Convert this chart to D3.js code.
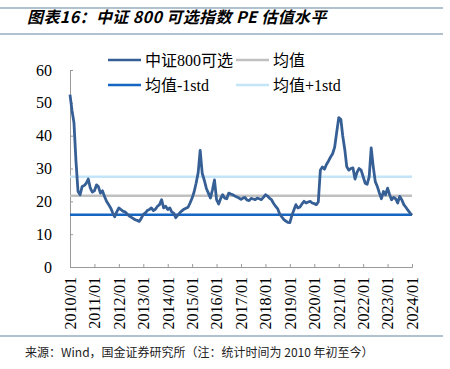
<!DOCTYPE html>
<html>
<head>
<meta charset="utf-8">
<script src="https://cdn.jsdelivr.net/npm/d3@7"></script>
<style>
  body { margin: 0; background: #fff; }
  svg text { font-family: "Liberation Serif", "Noto Sans CJK SC", serif; }
</style>
</head>
<body>
<div id="chart"></div>
<script>
// PE of CSI 800 consumer discretionary, monthly from 2010/01 to 2024/01
var peValues = [
    52.5, 47.5, 44, 32, 23, 22, 24.5, 24.8, 25.5, 26.8, 24, 22.8,          // 2010
    23.2, 25, 24.5, 22.5, 23.2, 21.5, 20, 19, 18, 16.5, 15.3, 16.8,        // 2011
    18, 17.5, 17, 16.8, 16.2, 15.6, 15.2, 14.8, 14.4, 14.2, 13.9, 14.8,    // 2012
    16, 16.5, 17.2, 17.5, 18, 17.2, 17.6, 18.5, 19, 20.5, 18, 18.5,        // 2013
    17.5, 18, 16.8, 16.4, 15, 15.8, 16.5, 17.1, 17.6, 17.9, 18.2, 19.5,    // 2014
    21, 23, 25.5, 28.7, 35.5, 28.5, 26.5, 24, 22.5, 21, 23.5, 26.5,        // 2015
    20.5, 19.2, 20.8, 22, 21, 20.8, 22.5, 22.2, 22, 21.6, 21.3, 21,        // 2016
    20.6, 21, 21.2, 20.4, 20.2, 20.9, 20.7, 20.5, 21, 20.8, 20.5, 21.2,    // 2017
    22, 21.6, 21, 20.5, 19.4, 18.5, 17.8, 16.2, 15.3, 14.5, 14, 13.6,      // 2018
    13.5, 15.8, 17.3, 19, 18, 18.3, 19.2, 20, 19.5, 19.8, 20, 19.5,        // 2019
    19.3, 19, 19.8, 29.5, 30.5, 29.8, 31.2, 32.3, 33.5, 34.5, 36.5, 41,    // 2020
    45.5, 45, 40, 35.8, 30.5, 29.5, 30, 30.2, 26.8, 28.8, 30, 29.5,        // 2021
    27.5, 25.5, 25.2, 27.5, 36.3, 30.5, 26, 24.5, 22.5, 20.8, 23, 22,      // 2022
    24, 22, 20.5, 21.2, 20.8, 19.5, 21.5, 20.5, 19, 18.2, 17.3, 16.5,      // 2023
    15.8                                                                   // 2024
];
var meanValue = 21.7;
var minusStdValue = 15.95;
var plusStdValue = 27.45;

var yTicks = [0, 10, 20, 30, 40, 50, 60];
var tickYears = d3.range(2010, 2025);

var seriesNames = ["中证800可选", "均值", "均值-1std", "均值+1std"];
var seriesColors = ["#365f96", "#c0c0c0", "#1466c2", "#c4e5f8"];

var titleText = "图表16：中证 800 可选指数 PE 估值水平";
var sourceText = "来源：Wind，国金证券研究所（注：统计时间为 2010 年初至今）";

var serif = "'Liberation Serif', 'Noto Sans CJK SC', serif";
var width = 450, height = 369;
var margin = {top: 70, right: 38, bottom: 102, left: 70};

var svg = d3.select("#chart").append("svg")
    .attr("width", width)
    .attr("height", height);

// header / footer rules
[8, 34, 336].forEach(function(yy) {
    svg.append("line")
        .attr("x1", 0).attr("x2", 443)
        .attr("y1", yy).attr("y2", yy)
        .style("stroke", "#98acbe")
        .style("stroke-width", 1.3);
});

svg.append("text")
    .attr("x", 27)
    .attr("y", 23)
    .style("font-family", "'Noto Sans CJK SC', 'Liberation Sans', sans-serif")
    .style("font-size", "16px")
    .style("font-weight", "bold")
    .style("font-style", "italic")
    .style("letter-spacing", "0.4px")
    .text(titleText);

svg.append("text")
    .attr("x", 25)
    .attr("y", 357)
    .style("font-family", "'Noto Sans CJK SC', 'Liberation Sans', sans-serif")
    .style("font-size", "12px")
    .style("fill", "#222")
    .text(sourceText);

var dates = d3.timeMonth.range(new Date(2010, 0, 1), new Date(2024, 1, 1));
var data = dates.map(function(d, i) { return {date: d, pe: peValues[i]}; });

var x = d3.scaleTime()
    .domain([new Date(2010, 0, 1), new Date(2024, 0, 1)])
    .range([margin.left, width - margin.right]);
var y = d3.scaleLinear()
    .domain([0, 60])
    .range([height - margin.bottom, margin.top]);

// axes
var yAxis = d3.axisLeft(y).tickValues(yTicks).tickSize(-3).tickPadding(18);
var gy = svg.append("g")
    .attr("transform", "translate(" + margin.left + ",0)")
    .call(yAxis);
gy.selectAll("text")
    .style("font-family", serif)
    .style("font-size", "16px")
    .style("fill", "#000");

var xAxis = d3.axisBottom(x)
    .tickValues(tickYears.map(function(yr) { return new Date(yr, 0, 1); }))
    .tickSize(-3)
    .tickFormat(d3.timeFormat("%Y/%m"));
var gx = svg.append("g")
    .attr("transform", "translate(0," + (height - margin.bottom) + ")")
    .call(xAxis);
gx.selectAll("text")
    .style("font-family", serif)
    .style("font-size", "16px")
    .style("fill", "#000")
    .attr("text-anchor", "end")
    .attr("transform", "rotate(-90)")
    .attr("x", -10)
    .attr("y", 0)
    .attr("dy", "0.33em");

svg.selectAll(".domain, .tick line").style("stroke", "#9a9a9a");

// reference lines
var refs = [
    {v: meanValue, c: seriesColors[1]},
    {v: minusStdValue, c: seriesColors[2]},
    {v: plusStdValue, c: seriesColors[3]}
];
refs.forEach(function(r) {
    svg.append("line")
        .attr("x1", x.range()[0]).attr("x2", x(dates[dates.length - 1]))
        .attr("y1", y(r.v)).attr("y2", y(r.v))
        .style("stroke", r.c)
        .style("stroke-width", 2.5);
});

var valueline = d3.line()
    .x(function(d) { return x(d.date); })
    .y(function(d) { return y(d.pe); });

svg.append("path")
    .attr("d", valueline(data))
    .style("fill", "none")
    .style("stroke", seriesColors[0])
    .style("stroke-width", 2.8)
    .style("stroke-linejoin", "round");

// legend
var legendPos = [[108, 60], [236, 60], [108, 85], [236, 85]];
seriesNames.forEach(function(name, i) {
    var g = svg.append("g")
        .attr("transform", "translate(" + legendPos[i][0] + "," + legendPos[i][1] + ")");
    g.append("line")
        .attr("x1", 0).attr("x2", 33)
        .style("stroke", seriesColors[i])
        .style("stroke-width", 2.6);
    g.append("text")
        .attr("x", 37)
        .attr("dy", "0.35em")
        .style("font-family", serif)
        .style("font-size", "16px")
        .text(name);
});
</script>
</body>
</html>
